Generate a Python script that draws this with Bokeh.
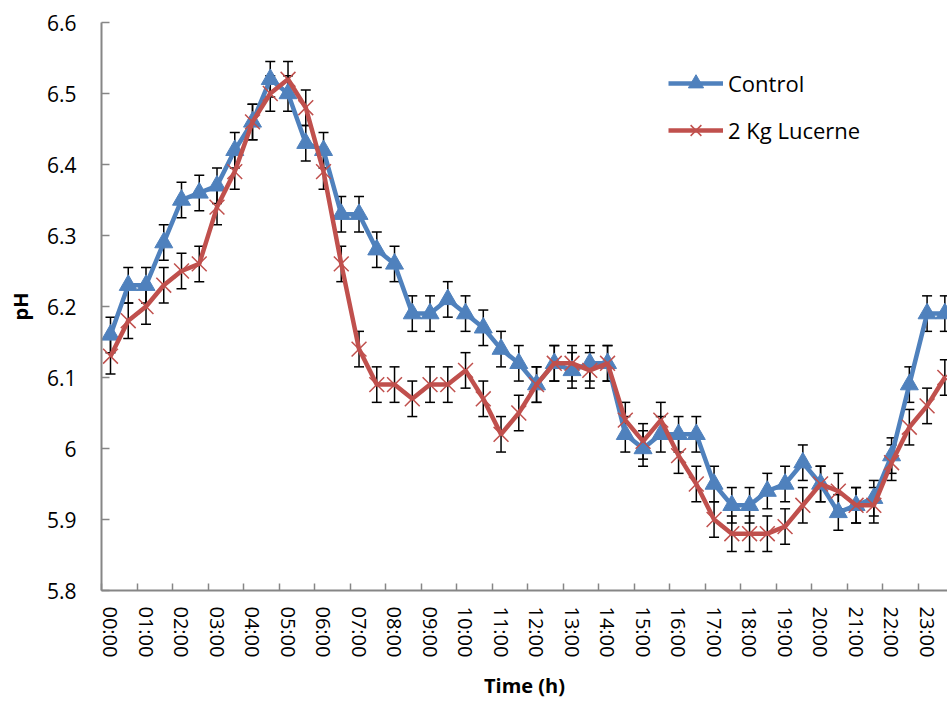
from bokeh.plotting import figure
from bokeh.models import (ColumnDataSource, FixedTicker, CustomJSTickFormatter,
                          Whisker, TeeHead, Legend, LegendItem, Range1d)
from bokeh.embed import file_html
from bokeh.resources import INLINE

# ---------------- data ----------------
times = ["00:00", "00:30", "01:00", "01:30", "02:00", "02:30", "03:00", "03:30",
         "04:00", "04:30", "05:00", "05:30", "06:00", "06:30", "07:00", "07:30",
         "08:00", "08:30", "09:00", "09:30", "10:00", "10:30", "11:00", "11:30",
         "12:00", "12:30", "13:00", "13:30", "14:00", "14:30", "15:00", "15:30",
         "16:00", "16:30", "17:00", "17:30", "18:00", "18:30", "19:00", "19:30",
         "20:00", "20:30", "21:00", "21:30", "22:00", "22:30", "23:00", "23:30"]

control = [6.16, 6.23, 6.23, 6.29, 6.35, 6.36, 6.37, 6.42, 6.46, 6.52,
           6.50, 6.43, 6.42, 6.33, 6.33, 6.28, 6.26, 6.19, 6.19, 6.21,
           6.19, 6.17, 6.14, 6.12, 6.09, 6.12, 6.11, 6.12, 6.12, 6.02,
           6.00, 6.02, 6.02, 6.02, 5.95, 5.92, 5.92, 5.94, 5.95, 5.98,
           5.95, 5.91, 5.92, 5.93, 5.99, 6.09, 6.19, 6.19]

lucerne = [6.13, 6.18, 6.20, 6.23, 6.25, 6.26, 6.34, 6.39, 6.46, 6.50,
           6.52, 6.48, 6.39, 6.26, 6.14, 6.09, 6.09, 6.07, 6.09, 6.09,
           6.11, 6.07, 6.02, 6.05, 6.09, 6.12, 6.12, 6.11, 6.12, 6.04,
           6.01, 6.04, 5.99, 5.95, 5.90, 5.88, 5.88, 5.88, 5.89, 5.92,
           5.95, 5.94, 5.92, 5.92, 5.98, 6.03, 6.06, 6.10]

control_se = [0.025] * 48
lucerne_se = [0.025] * 48

y_ticks = [5.8, 5.9, 6.0, 6.1, 6.2, 6.3, 6.4, 6.5, 6.6]

series_names = ["Control", "2 Kg Lucerne"]

# ---------------- styling ----------------
BLUE = "#4F81BD"
RED = "#C0504D"
AXIS_GRAY = "#868686"
FONT = "Open Sans"

n = len(times)
xs = list(range(n))
src = ColumnDataSource(dict(
    x=xs,
    control=control,
    c_lo=[v - e for v, e in zip(control, control_se)],
    c_hi=[v + e for v, e in zip(control, control_se)],
    lucerne=lucerne,
    l_lo=[v - e for v, e in zip(lucerne, lucerne_se)],
    l_hi=[v + e for v, e in zip(lucerne, lucerne_se)],
))

W, H = 947, 704
p = figure(width=W, height=H, output_backend="svg", toolbar_location=None,
           x_range=Range1d(-0.507, 47.15), y_range=Range1d(5.8, 6.6),
           min_border_left=101, min_border_right=0, min_border_top=22,
           min_border_bottom=114)
p.outline_line_color = None
p.xgrid.visible = False
p.ygrid.visible = False
p.background_fill_color = "white"
p.border_fill_color = "white"

# x axis: labels every hour at category centres, ticks at category boundaries
xa = p.xaxis[0]
xa.ticker = FixedTicker(ticks=xs[::2],
                        minor_ticks=[i - 0.5 for i in range(0, n + 1, 2)])
xa.formatter = CustomJSTickFormatter(args=dict(labels=times),
                                     code="return labels[Math.round(tick)];")
xa.major_tick_in = 0
xa.major_tick_out = 0
xa.minor_tick_in = 7
xa.minor_tick_out = 0
xa.minor_tick_line_color = AXIS_GRAY
xa.minor_tick_line_width = 1.5
xa.axis_line_color = AXIS_GRAY
xa.axis_line_width = 2
xa.major_label_orientation = "vertical"
xa.major_label_standoff = 16
xa.major_label_text_font = FONT
xa.major_label_text_font_size = "20px"
xa.major_label_text_color = "black"
xa.axis_label = "Time (h)"
xa.axis_label_text_font = FONT
xa.axis_label_text_font_style = "bold"
xa.axis_label_text_font_size = "20px"
xa.axis_label_text_color = "black"
xa.axis_label_standoff = 12

# y axis
ya = p.yaxis[0]
ya.ticker = FixedTicker(ticks=y_ticks)
ya.formatter = CustomJSTickFormatter(code="return String(Math.round(tick*10)/10);")
ya.major_tick_in = 8
ya.major_tick_out = 0
ya.minor_tick_in = 0
ya.minor_tick_out = 0
ya.major_tick_line_color = AXIS_GRAY
ya.major_tick_line_width = 1.5
ya.axis_line_color = AXIS_GRAY
ya.axis_line_width = 2
ya.major_label_standoff = 25
ya.major_label_text_font = FONT
ya.major_label_text_font_size = "21px"
ya.major_label_text_color = "black"
ya.axis_label = "pH"
ya.axis_label_text_font = FONT
ya.axis_label_text_font_style = "bold"
ya.axis_label_text_font_size = "20px"
ya.axis_label_text_color = "black"
ya.axis_label_standoff = 10

# ---------------- series ----------------
c_line = p.line("x", "control", source=src, line_color=BLUE, line_width=4.5)
c_mark = p.scatter("x", "control", source=src, marker="triangle", size=18,
                   fill_color=BLUE, line_color=BLUE)
p.add_layout(Whisker(base="x", upper="c_hi", lower="c_lo", source=src,
                     line_color="black", line_width=1.5,
                     upper_head=TeeHead(size=10, line_color="black", line_width=1.5),
                     lower_head=TeeHead(size=10, line_color="black", line_width=1.5)))

l_line = p.line("x", "lucerne", source=src, line_color=RED, line_width=4.5)
l_mark = p.scatter("x", "lucerne", source=src, marker="x", size=21,
                   line_color=RED, line_width=1.5)
p.add_layout(Whisker(base="x", upper="l_hi", lower="l_lo", source=src,
                     line_color="black", line_width=1.5,
                     upper_head=TeeHead(size=10, line_color="black", line_width=1.5),
                     lower_head=TeeHead(size=10, line_color="black", line_width=1.5)))

legend = Legend(items=[LegendItem(label=series_names[0], renderers=[c_line, c_mark]),
                       LegendItem(label=series_names[1], renderers=[l_line, l_mark])],
                location=(567, 441), orientation="vertical",
                glyph_width=55, glyph_height=38, label_height=38,
                label_standoff=5, spacing=9, padding=0, margin=0,
                border_line_color=None, background_fill_alpha=0,
                label_text_font=FONT, label_text_font_size="22px",
                label_text_color="black")
p.add_layout(legend)

open("out.html", "w").write(file_html(p, INLINE))
